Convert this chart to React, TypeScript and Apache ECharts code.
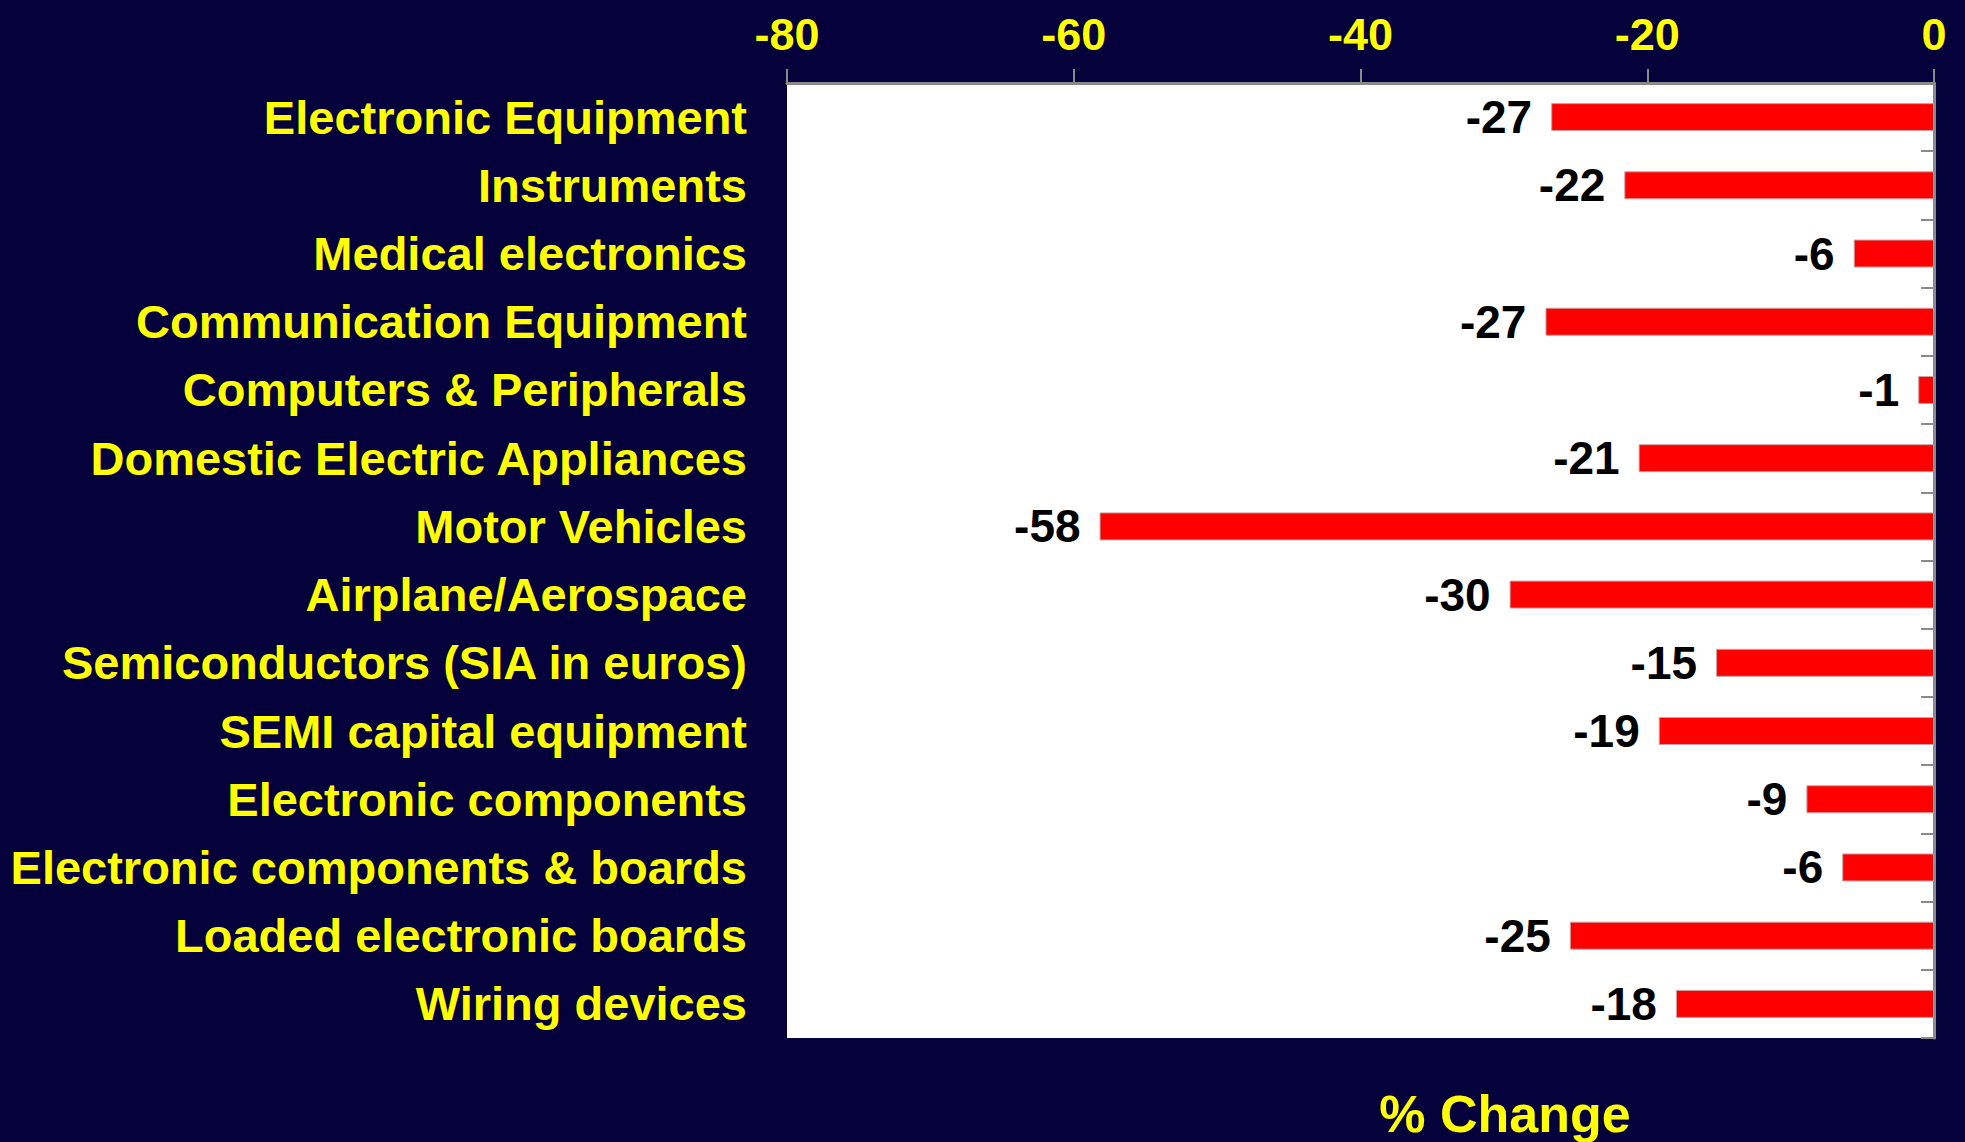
import React, { useEffect, useRef } from "react";
import * as echarts from "echarts";

const categories = [
  "Electronic Equipment",
  "Instruments",
  "Medical electronics",
  "Communication Equipment",
  "Computers & Peripherals",
  "Domestic Electric Appliances",
  "Motor Vehicles",
  "Airplane/Aerospace",
  "Semiconductors (SIA in euros)",
  "SEMI capital equipment",
  "Electronic components",
  "Electronic components & boards",
  "Loaded electronic boards",
  "Wiring devices",
];

const values = [-26.7, -21.6, -5.6, -27.1, -1.1, -20.6, -58.2, -29.6, -15.2, -19.2, -8.9, -6.4, -25.4, -18.0];

const xTicks = { min: -80, max: 0, interval: 20 };
const axisTitle = "% Change";

const FONT = "'Liberation Sans', Arial, Helvetica, sans-serif";
const BG = "#05013a";
const YELLOW = "#ffff00";
const GRAY = "#8a8a8a";

export default function App() {
  const ref = useRef<HTMLDivElement>(null);
  useEffect(() => {
    document.body.style.margin = "0";
    document.body.style.background = BG;
    const chart = echarts.init(ref.current!, null, { renderer: "svg" });
    chart.setOption({
      animation: false,
      backgroundColor: BG,
      textStyle: { fontFamily: FONT },
      grid: {
        left: 787,
        right: 31,
        top: 83,
        bottom: 104,
        show: true,
        backgroundColor: "#ffffff",
        borderWidth: 0,
      },
      xAxis: {
        type: "value",
        position: "top",
        min: xTicks.min,
        max: xTicks.max,
        interval: xTicks.interval,
        axisLine: { show: true, onZero: false, lineStyle: { color: GRAY, width: 3 } },
        axisTick: { show: true, inside: false, length: 14, lineStyle: { color: GRAY, width: 2 } },
        splitLine: { show: false },
        axisLabel: {
          color: YELLOW,
          fontFamily: FONT,
          fontWeight: "bold",
          fontSize: 45,
          margin: 26,
        },
      },
      yAxis: [
        {
          type: "category",
          data: categories,
          inverse: true,
          position: "left",
          axisLine: { show: false },
          axisTick: { show: false },
          axisLabel: {
            color: YELLOW,
            fontFamily: FONT,
            fontWeight: "bold",
            fontSize: 47,
            margin: 40,
          },
        },
        {
          type: "category",
          data: categories,
          inverse: true,
          position: "right",
          axisLine: { show: true, lineStyle: { color: GRAY, width: 3 } },
          axisTick: { show: true, inside: true, length: 13, lineStyle: { color: GRAY, width: 2 } },
          axisLabel: { show: false },
        },
      ],
      series: [
        {
          type: "bar",
          yAxisIndex: 0,
          data: values,
          barWidth: 28,
          itemStyle: { color: "#ff0000", borderColor: "#c9a0a0", borderWidth: 1 },
          label: {
            show: true,
            position: "left",
            distance: 19,
            color: "#000000",
            fontFamily: FONT,
            fontWeight: "bold",
            fontSize: 46,
            formatter: (p: any) => String(Math.round(p.value)),
          },
        },
      ],
      graphic: [
        {
          type: "text",
          x: 1505,
          y: 1088,
          style: {
            text: axisTitle,
            fill: YELLOW,
            fontFamily: FONT,
            fontWeight: "bold",
            fontSize: 52,
            textAlign: "center",
            textVerticalAlign: "top",
          },
        },
      ],
    });
    return () => chart.dispose();
  }, []);
  return <div ref={ref} style={{ width: 1965, height: 1142 }} />;
}
